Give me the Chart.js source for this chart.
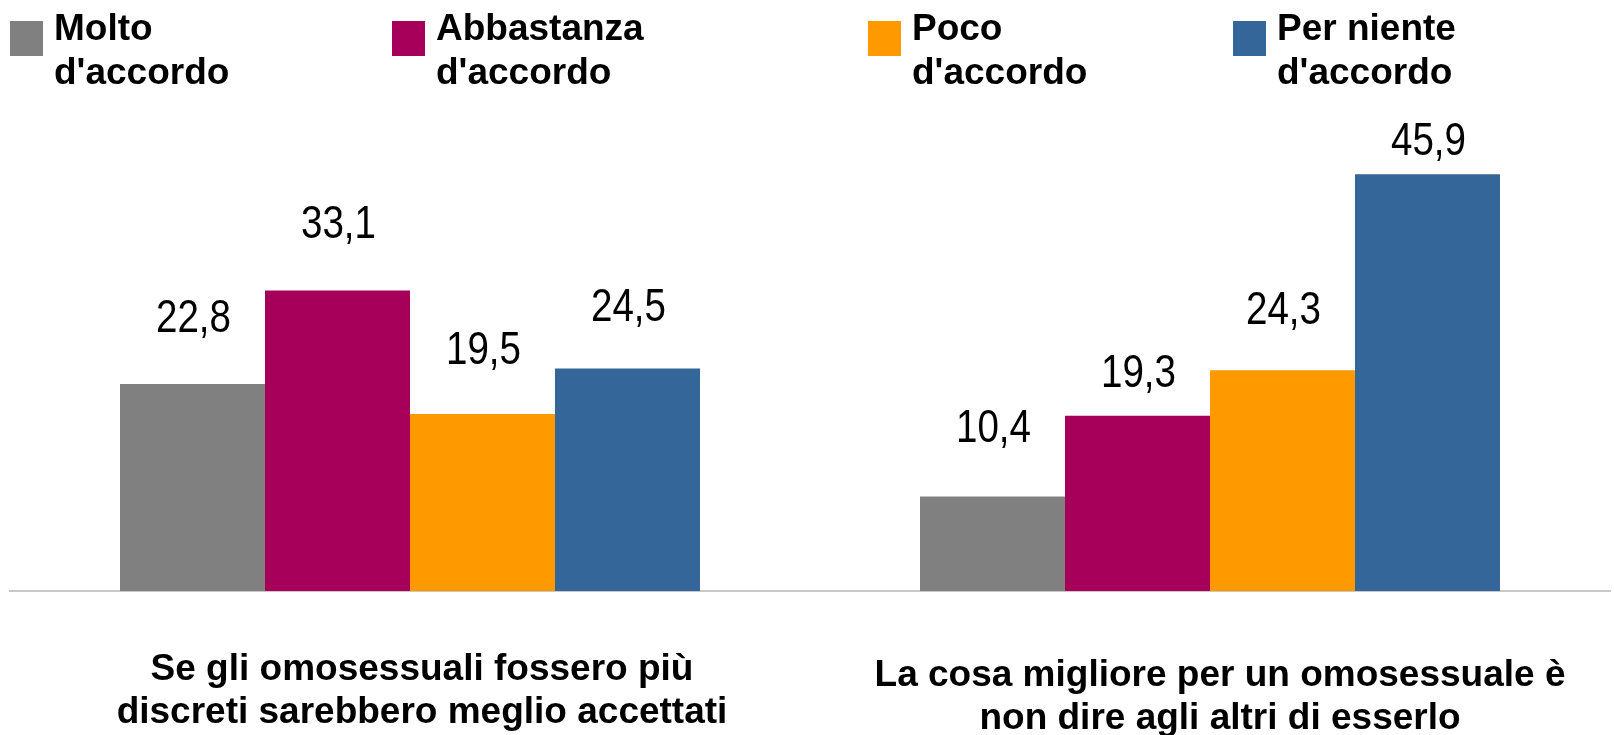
<!DOCTYPE html>
<html>
<head>
<meta charset="utf-8">
<script src="https://cdn.jsdelivr.net/npm/chart.js@4/dist/chart.umd.min.js"></script>
<style>
  html, body { margin: 0; padding: 0; background: #ffffff; }
  #wrap { width: 1614px; height: 735px; position: relative; }
</style>
</head>
<body>
<div id="wrap"><canvas id="c" width="1614" height="735"></canvas></div>
<script>
// ---- data ----
const categories = [
  ["Se gli omosessuali fossero più", "discreti sarebbero meglio accettati"],
  ["La cosa migliore per un omosessuale è", "non dire agli altri di esserlo"]
];
const seriesNames = [
  ["Molto", "d'accordo"],
  ["Abbastanza", "d'accordo"],
  ["Poco", "d'accordo"],
  ["Per niente", "d'accordo"]
];
const molto      = [22.8, 10.4];
const abbastanza = [33.1, 19.3];
const poco       = [19.5, 24.3];
const perNiente  = [24.5, 45.9];

// ---- styles ----
const colors = ["#808080", "#A6005A", "#FF9900", "#346699"];
const legendX = [10, 392, 868, 1233];
// gap between bar top and label baseline, per series, per category
const labelGaps = [[52, 55], [52, 29], [50, 46], [48, 19]];
const catLabelShift = [[12, 0], [10, 6]]; // [dx, dy] per category

const values = [molto, abbastanza, poco, perNiente];

const fmt = v => v.toFixed(1).replace('.', ',');

const overlay = {
  id: 'overlay',
  afterDatasetsDraw(chart) {
    const ctx = chart.ctx;
    ctx.save();
    // value labels (condensed)
    ctx.font = '47px "Liberation Sans", Arial, sans-serif';
    ctx.fillStyle = '#000000';
    ctx.textAlign = 'center';
    ctx.textBaseline = 'alphabetic';
    chart.data.datasets.forEach((ds, di) => {
      const meta = chart.getDatasetMeta(di);
      meta.data.forEach((bar, i) => {
        ctx.save();
        ctx.translate(bar.x + 1, bar.y - labelGaps[di][i]);
        ctx.scale(0.82, 1);
        ctx.fillText(fmt(ds.data[i]), 0, 0);
        ctx.restore();
      });
    });
    // category labels
    ctx.font = 'bold 37px "Liberation Sans", Arial, sans-serif';
    const xs = chart.scales.x;
    chart.data.labels.forEach((lines, i) => {
      const x = xs.getPixelForValue(i) + catLabelShift[i][0];
      lines.forEach((t, li) => ctx.fillText(t, x, 680 + catLabelShift[i][1] + li * 43));
    });
    // legend
    ctx.textAlign = 'left';
    chart.data.datasets.forEach((ds, di) => {
      const x = legendX[di];
      ctx.fillStyle = ds.backgroundColor;
      ctx.fillRect(x, 21, 33, 35);
      ctx.fillStyle = '#000000';
      ds.label.forEach((t, li) => ctx.fillText(t, x + 44, 40 + li * 44));
    });
    ctx.restore();
  }
};

new Chart(document.getElementById('c'), {
  type: 'bar',
  data: {
    labels: categories,
    datasets: values.map((v, i) => ({
      label: seriesNames[i],
      data: v,
      backgroundColor: colors[i],
      borderWidth: 0,
      barPercentage: 1,
      categoryPercentage: 0.725
    }))
  },
  options: {
    responsive: false,
    animation: false,
    devicePixelRatio: 1,
    layout: { padding: { top: 137, bottom: 144, left: 10, right: 4 } },
    plugins: { legend: { display: false }, tooltip: { enabled: false } },
    scales: {
      x: {
        grid: { display: false, drawTicks: false },
        border: { display: true, color: '#C8C8C8', width: 2 },
        ticks: { display: false }
      },
      y: {
        display: false,
        min: 0,
        max: 50
      }
    }
  },
  plugins: [overlay]
});
</script>
</body>
</html>
